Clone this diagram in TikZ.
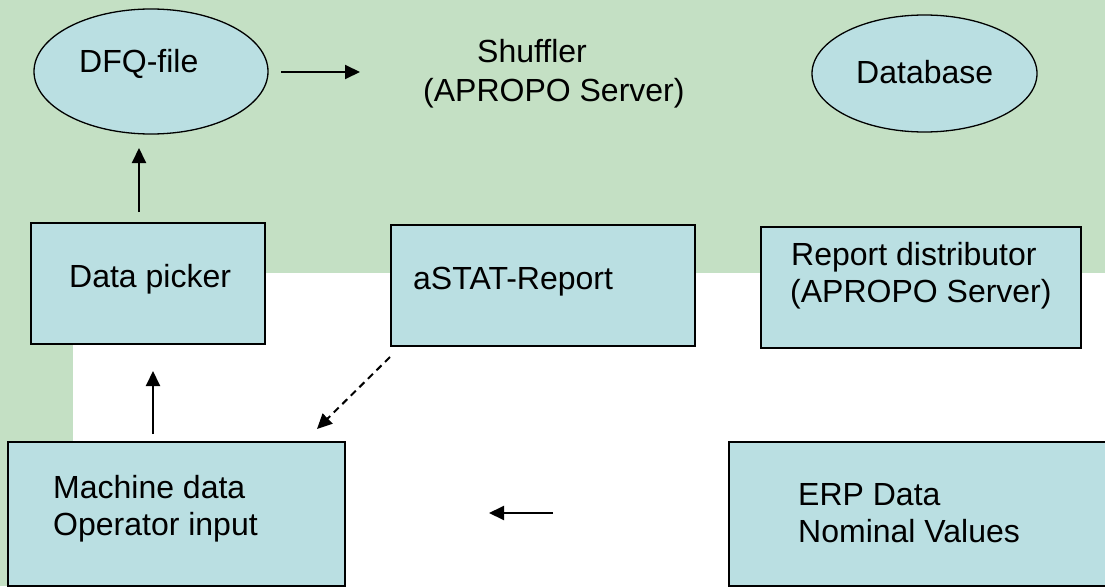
\documentclass[tikz,border=0pt]{standalone}
\usepackage{fontspec}
\setmainfont{Liberation Sans}
\usetikzlibrary{shapes.geometric,arrows.meta}
\definecolor{bggreen}{HTML}{C4E0C4}
\definecolor{boxblue}{HTML}{BADFE2}
\tikzset{
  boxnode/.style={draw=black, line width=2pt, fill=boxblue, rectangle, inner sep=0pt},
  ellnode/.style={draw=black, line width=1.3pt, fill=boxblue, ellipse, inner sep=0pt},
  txt/.style={anchor=base west, inner sep=0pt, font=\fontsize{32}{37}\selectfont, align=left},
  arr/.style={line width=2pt, -{Triangle[length=15pt,width=14pt]}},
  darr/.style={arr, dash pattern=on 7pt off 5pt}
}
\begin{document}
\begin{tikzpicture}[x=1pt,y=-1pt]
\useasboundingbox (0,0) rectangle (1105,586);
% background
\fill[bggreen] (0,0) rectangle (1105,273);
\fill[bggreen] (0,0) rectangle (73,586);
% ellipses
\node[ellnode, minimum width=234pt, minimum height=125pt] (dfq) at (151,71.5) {};
\node[ellnode, minimum width=225pt, minimum height=117pt] (db) at (924.5,73.5) {};
% boxes
\node[boxnode, minimum width=234pt, minimum height=121pt] (picker) at (148,283.5) {};
\node[boxnode, minimum width=304pt, minimum height=121pt] (astat) at (543,285.5) {};
\node[boxnode, minimum width=320pt, minimum height=121pt] (repd) at (921,287.5) {};
\node[boxnode, minimum width=337pt, minimum height=144pt] (mach) at (176.5,514) {};
\node[boxnode, minimum width=380pt, minimum height=144pt] (erp) at (919,514) {};
% texts
\node[txt] (tdfq) at (79,73) {DFQ-file};
\node[txt] (tdb) at (856,83) {Database};
\node[txt] (tsh1) at (477,63) {Shuffler};
\node[txt] (tsh2) at (423,101) {(APROPO Server)};
\node[txt] (tpick) at (69,287) {Data picker};
\node[txt] (tastat) at (413,289) {aSTAT-Report};
\node[txt] (trep1) at (791,265) {Report distributor};
\node[txt] (trep2) at (790,302) {(APROPO Server)};
\node[txt] (tm1) at (53,498) {Machine data};
\node[txt] (tm2) at (53,535) {Operator input};
\node[txt] (te1) at (798,505) {ERP Data};
\node[txt] (te2) at (798,542) {Nominal Values};
% connector end points
\coordinate (c1s) at (139,212);
\coordinate (c1e) at (139,148);
\coordinate (c2s) at (281,72);
\coordinate (c2e) at (360,72);
\coordinate (c3s) at (153,434);
\coordinate (c3e) at (153,371);
\coordinate (c4s) at (390,357);
\coordinate (c4e) at (317,429);
\coordinate (c5s) at (553,513);
\coordinate (c5e) at (489,513);
% connectors
\draw[arr] (c1s) -- (c1e);
\draw[arr] (c2s) -- (c2e);
\draw[arr] (c3s) -- (c3e);
\draw[darr] (c4s) -- (c4e);
\draw[arr] (c5s) -- (c5e);
\end{tikzpicture}
\end{document}
